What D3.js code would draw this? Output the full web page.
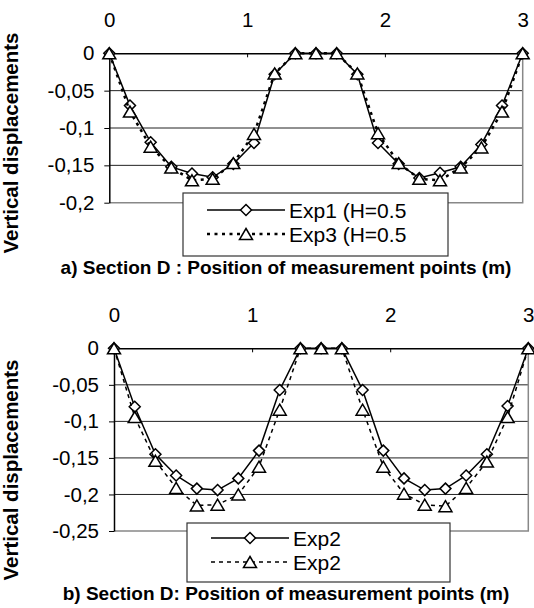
<!DOCTYPE html>
<meta charset="utf-8">
<script src="https://d3js.org/d3.v7.min.js"></script>
<style>
  body { margin: 0; background: #fff; }
  svg text { font-family: "Liberation Sans", Arial, sans-serif; }
</style>
<body>
<svg width="534" height="608"></svg>
<script>
// measurement positions (m)
var positions = [0, 0.15, 0.3, 0.45, 0.6, 0.75, 0.9, 1.05, 1.2, 1.35, 1.5, 1.65, 1.8, 1.95, 2.1, 2.25, 2.4, 2.55, 2.7, 2.85, 3];

// a) section D
var exp1A = [0, -0.070, -0.119, -0.152, -0.161, -0.166, -0.148, -0.120, -0.028, 0, 0, 0, -0.028, -0.120, -0.148, -0.167, -0.160, -0.152, -0.122, -0.070, 0];
var exp3A = [0, -0.078, -0.125, -0.153, -0.170, -0.168, -0.147, -0.108, -0.027, 0, 0, 0, -0.027, -0.107, -0.147, -0.168, -0.170, -0.153, -0.126, -0.078, 0];

// b) section D
var exp2B  = [0, -0.080, -0.145, -0.174, -0.192, -0.194, -0.178, -0.140, -0.057, 0, 0, 0, -0.057, -0.140, -0.178, -0.194, -0.192, -0.174, -0.145, -0.079, 0];
var exp2bB = [0, -0.094, -0.154, -0.191, -0.215, -0.214, -0.200, -0.162, -0.084, 0, 0, 0, -0.084, -0.162, -0.199, -0.214, -0.216, -0.191, -0.155, -0.094, 0];

var xTicks = [0, 1, 2, 3];
var yTicksA = [0, -0.05, -0.1, -0.15, -0.2];
var yTicksB = [0, -0.05, -0.1, -0.15, -0.2, -0.25];

var namesA = ["Exp1 (H=0.5", "Exp3 (H=0.5"];
var namesB = ["Exp2", "Exp2"];
var titleA = "a) Section D : Position of measurement points (m)";
var titleB = "b) Section D: Position of measurement points (m)";
var yLabel = "Vertical displacements";

var svg = d3.select("svg");

function diamond(s) { return "M0," + (-s) + "L" + s + ",0L0," + s + "L" + (-s) + ",0Z"; }
function triangle(w, h) { return "M0," + (-h / 2) + "L" + (w / 2) + "," + (h / 2) + "L" + (-w / 2) + "," + (h / 2) + "Z"; }

function fmt(d) { return String(d).replace(".", ","); }

function panel(cfg) {
  var x = d3.scaleLinear().domain([0, 3]).range([cfg.left, cfg.right]);
  var y = d3.scaleLinear().domain([0, cfg.yTicks[cfg.yTicks.length - 1]]).range([cfg.top, cfg.bottom]);
  var g = svg.append("g");

  // grid lines
  g.selectAll(".grid").data(cfg.yTicks.slice(1, -1)).enter().append("line")
    .attr("x1", cfg.left).attr("x2", cfg.right)
    .attr("y1", function(d) { return y(d); }).attr("y2", function(d) { return y(d); })
    .attr("stroke", "#222").attr("stroke-width", 1);

  // plot border right + bottom
  g.append("path")
    .attr("d", "M" + cfg.right + "," + cfg.top + "V" + cfg.bottom + "H" + cfg.left)
    .attr("fill", "none").attr("stroke", "#888").attr("stroke-width", 1.5);

  // y axis
  var ya = g.append("g").attr("transform", "translate(" + cfg.left + ",0)")
    .call(d3.axisLeft(y).tickValues(cfg.yTicks).tickFormat(fmt).tickSize(5).tickSizeOuter(0).tickPadding(10));
  ya.select(".domain").attr("stroke", "#000").attr("stroke-width", 1.5);
  ya.selectAll("line").attr("stroke", "#000");
  ya.selectAll("text").attr("font-size", 20.5).attr("fill", "#000")
    .attr("font-family", "Liberation Sans, Arial, sans-serif");

  // x axis along the top (at y = 0)
  var xa = g.append("g").attr("transform", "translate(0," + cfg.top + ")")
    .call(d3.axisTop(x).tickValues(xTicks).tickFormat(d3.format("d")).tickSizeInner(-4).tickSizeOuter(0).tickPadding(26));
  xa.select(".domain").attr("stroke", "#000").attr("stroke-width", 1.5);
  xa.selectAll("line").attr("stroke", "#000");
  xa.selectAll("text").attr("font-size", 20.5).attr("fill", "#000")
    .attr("font-family", "Liberation Sans, Arial, sans-serif");

  var line1 = d3.line().x(function(d, i) { return x(positions[i]); }).y(function(d) { return y(d); });

  // series 1 (solid, diamonds)
  g.append("path").datum(cfg.s1).attr("d", line1)
    .attr("fill", "none").attr("stroke", "#000").attr("stroke-width", 1.5);
  g.selectAll(".d1").data(cfg.s1).enter().append("path")
    .attr("transform", function(d, i) { return "translate(" + x(positions[i]) + "," + y(d) + ")"; })
    .attr("d", diamond(5.5)).attr("fill", "#fff").attr("stroke", "#000").attr("stroke-width", 1.5);

  // series 2 (dotted/dashed, triangles)
  g.append("path").datum(cfg.s2).attr("d", line1)
    .attr("fill", "none").attr("stroke", "#000").attr("stroke-width", cfg.dashW)
    .attr("stroke-dasharray", cfg.dash);
  g.selectAll(".d2").data(cfg.s2).enter().append("path")
    .attr("transform", function(d, i) { return "translate(" + x(positions[i]) + "," + y(d) + ")"; })
    .attr("d", triangle(13, 11)).attr("fill", "#fff").attr("stroke", "#000").attr("stroke-width", 1.5);

  // legend
  var L = cfg.legend;
  g.append("rect").attr("x", L.x).attr("y", L.y).attr("width", L.w).attr("height", L.h)
    .attr("fill", "#fff").attr("stroke", "#333").attr("stroke-width", 1.2);
  var rows = [
    {name: cfg.names[0], dash: null, w: 1.5, mark: diamond(5.5)},
    {name: cfg.names[1], dash: cfg.dash, w: cfg.dashW, mark: triangle(13, 11)}
  ];
  rows.forEach(function(r, i) {
    var ry = L.y + L.row0 + i * L.rowH;
    g.append("line").attr("x1", L.x + 24).attr("x2", L.x + 102).attr("y1", ry).attr("y2", ry)
      .attr("stroke", "#000").attr("stroke-width", r.w).attr("stroke-dasharray", r.dash);
    g.append("path").attr("transform", "translate(" + (L.x + 63) + "," + ry + ")")
      .attr("d", r.mark).attr("fill", "#fff").attr("stroke", "#000").attr("stroke-width", 1.5);
    g.append("text").attr("x", L.x + 106).attr("y", ry).attr("dy", "0.36em")
      .attr("font-size", 21).text(r.name);
  });

  // titles
  g.append("text").attr("x", 286).attr("y", cfg.titleY).attr("text-anchor", "middle")
    .attr("font-size", 19).attr("font-weight", "bold").text(cfg.title);
  g.append("text").attr("transform", "translate(18," + cfg.labelY + ") rotate(-90)")
    .attr("text-anchor", "middle").attr("font-size", 20.5).attr("font-weight", "bold").text(yLabel);
}

panel({
  left: 109.3, right: 522.7, top: 53.3, bottom: 202.7,
  yTicks: yTicksA, s1: exp1A, s2: exp3A, names: namesA,
  dash: "3,4.5", dashW: 2.5,
  legend: {x: 183, y: 193, w: 265, h: 63, row0: 17, rowH: 24},
  title: titleA, titleY: 274, labelY: 143
});

panel({
  left: 114, right: 528.3, top: 348.3, bottom: 531,
  yTicks: yTicksB, s1: exp2B, s2: exp2bB, names: namesB,
  dash: "4,4", dashW: 1.5,
  legend: {x: 187, y: 523, w: 263, h: 59, row0: 15, rowH: 24},
  title: titleB, titleY: 600, labelY: 470
});
</script>
</body>
